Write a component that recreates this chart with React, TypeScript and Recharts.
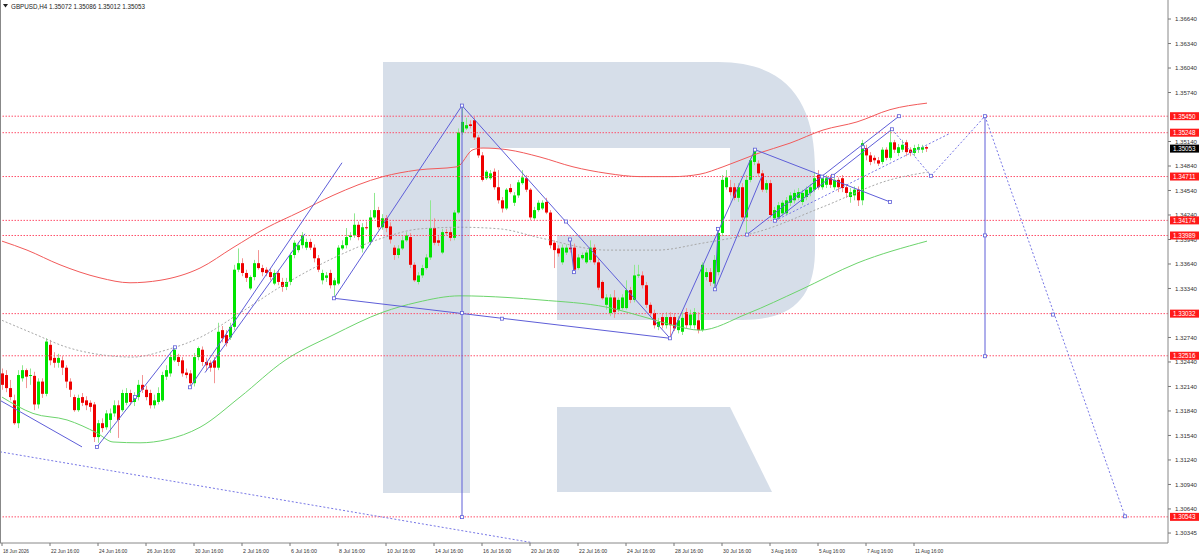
import React from 'react';
import { ComposedChart, Bar, Line, XAxis, YAxis, ReferenceLine, ReferenceDot } from 'recharts';

const opens = [
  1.3230,1.3228,1.3212,1.3197,1.3169,1.3224,1.3234,1.3227,1.3227,1.3192,
  1.3220,1.3205,1.3265,1.3249,1.3243,1.3246,1.3237,1.3220,1.3201,1.3185,
  1.3201,1.3197,1.3194,1.3192,1.3152,1.3169,1.3164,1.3173,1.3181,1.3191,
  1.3185,1.3194,1.3206,1.3195,1.3201,1.3216,1.3210,1.3206,1.3191,1.3195,
  1.3197,1.3226,1.3230,1.3246,1.3250,1.3246,1.3231,1.3230,1.3218,1.3250,
  1.3259,1.3244,1.3243,1.3246,1.3237,1.3283,1.3277,1.3274,1.3287,1.3357,
  1.3365,1.3353,1.3334,1.3348,1.3365,1.3359,1.3357,1.3354,1.3340,1.3353,
  1.3342,1.3336,1.3342,1.3375,1.3381,1.3387,1.3384,1.3391,1.3384,1.3371,
  1.3344,1.3347,1.3353,1.3338,1.3340,1.3383,1.3387,1.3397,1.3399,1.3412,
  1.3383,1.3409,1.3391,1.3421,1.3430,1.3409,1.3420,1.3410,1.3384,1.3375,
  1.3383,1.3393,1.3397,1.3363,1.3342,1.3350,1.3359,1.3372,1.3408,1.3393,
  1.3378,1.3403,1.3403,1.3396,1.3427,1.3525,1.3530,1.3535,1.3540,1.3519,
  1.3497,1.3469,1.3469,1.3477,1.3458,1.3442,1.3432,1.3457,1.3439,1.3448,
  1.3463,1.3469,1.3455,1.3420,1.3430,1.3432,1.3440,1.3427,1.3390,1.3383,
  1.3366,1.3378,1.3384,1.3384,1.3359,1.3371,1.3366,1.3369,1.3384,1.3366,
  1.3342,1.3314,1.3304,1.3323,1.3308,1.3310,1.3310,1.3332,1.3320,1.3350,
  1.3350,1.3338,1.3314,1.3304,1.3287,1.3299,1.3289,1.3299,1.3299,1.3283,
  1.3281,1.3305,1.3289,1.3289,1.3295,1.3283,1.3348,1.3354,1.3340,1.3354,
  1.3402,1.3458,1.3458,1.3458,1.3445,1.3458,1.3421,1.3467,1.3489,1.3487,
  1.3475,1.3455,1.3463,1.3420,1.3421,1.3426,1.3426,1.3439,1.3442,1.3445,
  1.3440,1.3446,1.3451,1.3455,1.3473,1.3458,1.3461,1.3469,1.3458,1.3467,
  1.3469,1.3458,1.3446,1.3448,1.3455,1.3442,1.3506,1.3497,1.3494,1.3491,
  1.3489,1.3504,1.3494,1.3513,1.3500,1.3504,1.3513,1.3504,1.3500,1.3504,
  1.3504,1.35072,
];

const closes = [
  1.3216,1.3212,1.3201,1.3169,1.3228,1.3234,1.3226,1.3228,1.3192,1.3220,
  1.3205,1.3269,1.3246,1.3243,1.3249,1.3237,1.3220,1.3210,1.3185,1.3200,
  1.3194,1.3191,1.3189,1.3152,1.3169,1.3163,1.3181,1.3181,1.3191,1.3173,
  1.3206,1.3206,1.3195,1.3201,1.3216,1.3210,1.3201,1.3191,1.3197,1.3206,
  1.3228,1.3234,1.3250,1.3259,1.3244,1.3230,1.3228,1.3218,1.3250,1.3261,
  1.3244,1.3240,1.3237,1.3237,1.3281,1.3273,1.3267,1.3287,1.3357,1.3365,
  1.3353,1.3347,1.3348,1.3365,1.3359,1.3354,1.3353,1.3348,1.3353,1.3342,
  1.3336,1.3342,1.3375,1.3390,1.3387,1.3399,1.3391,1.3384,1.3371,1.3357,
  1.3353,1.3350,1.3338,1.3344,1.3384,1.3387,1.3397,1.3399,1.3412,1.3397,
  1.3409,1.3408,1.3421,1.3430,1.3409,1.3420,1.3408,1.3394,1.3375,1.3383,
  1.3393,1.3399,1.3363,1.3344,1.3350,1.3359,1.3372,1.3408,1.3390,1.3390,
  1.3403,1.3402,1.3396,1.3427,1.3525,1.3538,1.3534,1.3533,1.3519,1.3497,
  1.3467,1.3477,1.3475,1.3458,1.3442,1.3432,1.3455,1.3452,1.3448,1.3464,
  1.3470,1.3455,1.3421,1.3430,1.3439,1.3439,1.3427,1.3387,1.3381,1.3377,
  1.3384,1.3384,1.3382,1.3357,1.3372,1.3375,1.3378,1.3384,1.3366,1.3335,
  1.3322,1.3323,1.3323,1.3305,1.3320,1.3323,1.3332,1.3320,1.3350,1.3351,
  1.3338,1.3314,1.3304,1.3289,1.3293,1.3289,1.3299,1.3289,1.3285,1.3295,
  1.3298,1.3289,1.3302,1.3305,1.3283,1.3363,1.3354,1.3342,1.3369,1.3402,
  1.3467,1.3470,1.3452,1.3445,1.3458,1.3421,1.3467,1.3491,1.3504,1.3475,
  1.3455,1.3463,1.3424,1.3430,1.3436,1.3439,1.3442,1.3448,1.3451,1.3452,
  1.3451,1.3455,1.3458,1.3469,1.3458,1.3469,1.3469,1.3461,1.3467,1.3458,
  1.3457,1.3451,1.3452,1.3455,1.3442,1.3512,1.3497,1.3489,1.3491,1.3487,
  1.3504,1.3494,1.3513,1.3504,1.3507,1.3510,1.3501,1.3500,1.3506,1.3507,
  1.3507,1.35053,
];

const highs = [
  1.3236,1.3234,1.3222,1.3204,1.3234,1.3240,1.3236,1.3236,1.3232,1.3224,
  1.3224,1.3273,1.3271,1.3256,1.3254,1.3251,1.3240,1.3224,1.3204,1.3204,
  1.3206,1.3202,1.3197,1.3195,1.3173,1.3175,1.3185,1.3187,1.3197,1.3197,
  1.3210,1.3212,1.3210,1.3207,1.3222,1.3228,1.3215,1.3210,1.3204,1.3213,
  1.3232,1.3240,1.3256,1.3263,1.3254,1.3250,1.3236,1.3234,1.3255,1.3263,
  1.3263,1.3249,1.3246,1.3250,1.3292,1.3288,1.3283,1.3292,1.3363,1.3383,
  1.3371,1.3357,1.3350,1.3369,1.3381,1.3363,1.3360,1.3359,1.3357,1.3357,
  1.3347,1.3347,1.3378,1.3393,1.3391,1.3403,1.3395,1.3395,1.3388,1.3375,
  1.3357,1.3354,1.3357,1.3347,1.3387,1.3393,1.3408,1.3403,1.3426,1.3416,
  1.3414,1.3416,1.3430,1.3451,1.3434,1.3425,1.3424,1.3415,1.3387,1.3387,
  1.3398,1.3403,1.3402,1.3366,1.3354,1.3363,1.3376,1.3442,1.3420,1.3398,
  1.3407,1.3407,1.3408,1.3430,1.3530,1.3557,1.3543,1.3540,1.3544,1.3522,
  1.3501,1.3479,1.3479,1.3481,1.3479,1.3446,1.3457,1.3462,1.3452,1.3467,
  1.3479,1.3473,1.3457,1.3434,1.3442,1.3442,1.3445,1.3430,1.3393,1.3387,
  1.3388,1.3388,1.3389,1.3389,1.3376,1.3378,1.3381,1.3393,1.3388,1.3371,
  1.3344,1.3327,1.3327,1.3332,1.3323,1.3327,1.3344,1.3336,1.3363,1.3363,
  1.3355,1.3342,1.3317,1.3308,1.3298,1.3304,1.3305,1.3305,1.3304,1.3300,
  1.3305,1.3310,1.3308,1.3310,1.3305,1.3366,1.3359,1.3359,1.3375,1.3406,
  1.3473,1.3479,1.3467,1.3463,1.3463,1.3463,1.3473,1.3494,1.3506,1.3491,
  1.3479,1.3467,1.3467,1.3434,1.3440,1.3442,1.3446,1.3452,1.3455,1.3457,
  1.3455,1.3459,1.3462,1.3476,1.3479,1.3473,1.3473,1.3473,1.3470,1.3470,
  1.3473,1.3462,1.3457,1.3459,1.3459,1.3516,1.3510,1.3501,1.3497,1.3495,
  1.3507,1.3507,1.3530,1.3516,1.3511,1.3516,1.3516,1.3507,1.3510,1.3511,
  1.3510,1.35086,
];

const lows = [
  1.3210,1.3207,1.3197,1.3167,1.3163,1.3220,1.3212,1.3216,1.3185,1.3187,
  1.3200,1.3202,1.3240,1.3237,1.3237,1.3228,1.3212,1.3201,1.3183,1.3183,
  1.3190,1.3185,1.3183,1.3146,1.3145,1.3158,1.3161,1.3157,1.3177,1.3151,
  1.3183,1.3191,1.3191,1.3190,1.3197,1.3206,1.3197,1.3187,1.3187,1.3192,
  1.3195,1.3222,1.3226,1.3244,1.3239,1.3226,1.3224,1.3214,1.3214,1.3246,
  1.3239,1.3234,1.3232,1.3218,1.3234,1.3268,1.3263,1.3271,1.3283,1.3354,
  1.3349,1.3342,1.3332,1.3344,1.3357,1.3349,1.3349,1.3344,1.3338,1.3338,
  1.3330,1.3332,1.3338,1.3371,1.3378,1.3383,1.3381,1.3381,1.3366,1.3354,
  1.3339,1.3342,1.3334,1.3322,1.3338,1.3381,1.3383,1.3393,1.3396,1.3393,
  1.3378,1.3406,1.3387,1.3419,1.3406,1.3406,1.3403,1.3389,1.3369,1.3371,
  1.3381,1.3391,1.3359,1.3342,1.3339,1.3347,1.3357,1.3369,1.3387,1.3386,
  1.3376,1.3399,1.3392,1.3393,1.3425,1.3522,1.3528,1.3530,1.3516,1.3494,
  1.3465,1.3467,1.3467,1.3455,1.3438,1.3427,1.3430,1.3450,1.3435,1.3445,
  1.3461,1.3452,1.3418,1.3418,1.3428,1.3430,1.3425,1.3383,1.3359,1.3373,
  1.3363,1.3375,1.3378,1.3353,1.3357,1.3369,1.3364,1.3366,1.3363,1.3332,
  1.3320,1.3308,1.3300,1.3298,1.3305,1.3308,1.3308,1.3316,1.3317,1.3347,
  1.3334,1.3310,1.3300,1.3285,1.3283,1.3285,1.3285,1.3273,1.3282,1.3279,
  1.3277,1.3285,1.3285,1.3285,1.3279,1.3281,1.3344,1.3337,1.3333,1.3350,
  1.3398,1.3455,1.3448,1.3442,1.3440,1.3418,1.3399,1.3464,1.3485,1.3471,
  1.3452,1.3451,1.3420,1.3418,1.3418,1.3423,1.3424,1.3435,1.3438,1.3442,
  1.3436,1.3442,1.3447,1.3452,1.3455,1.3455,1.3457,1.3457,1.3455,1.3452,
  1.3452,1.3445,1.3439,1.3442,1.3435,1.3436,1.3491,1.3485,1.3487,1.3484,
  1.3486,1.3491,1.3491,1.3500,1.3496,1.3501,1.3496,1.3496,1.3496,1.3500,
  1.3500,1.35012,
];

const dateTickBars = [0,12,24,36,48,60,72,84,96,108,120,132,144,156,168,180,192,204,216,228];
const dateLabels = [
  '18 Jun 2026','22 Jun 16:00','24 Jun 16:00','26 Jun 16:00','30 Jun 16:00','2 Jul 16:00',
  '6 Jul 16:00','8 Jul 16:00','10 Jul 16:00','14 Jul 16:00','16 Jul 16:00','20 Jul 16:00',
  '22 Jul 16:00','24 Jul 16:00','28 Jul 16:00','30 Jul 16:00','3 Aug 16:00','5 Aug 16:00',
  '7 Aug 16:00','11 Aug 16:00',
];

const priceTicks = [
  1.3664,1.3634,1.3604,1.3574,1.3514,1.3484,1.3454,1.3424,1.3394,1.3364,1.3334,
  1.3274,1.3244,1.3214,1.3184,1.3154,1.3124,1.3094,1.3064,1.30345,
];
const levelPrices = [1.3545,1.35248,1.34711,1.34174,1.33989,1.33032,1.32516,1.30543];
const currentPrice = 1.35053;

const redMA = [
  [0,1.3392],[6.25,1.3381],[14.5,1.3363],[24.5,1.3347],[32,1.3341],[39.5,1.3344],[49.5,1.3359],
  [57.75,1.3384],[66,1.3408],[74.5,1.3428],[82.75,1.3448],[95.25,1.3471],[103.75,1.3479],
  [113.75,1.3483],[117.75,1.3504],[120.25,1.3506],[126.25,1.3504],[134.5,1.3495],[142.75,1.3483],
  [151.25,1.3475],[159.5,1.3471],[167.75,1.3471],[174.5,1.3474],[180.25,1.3483],[188.75,1.3499],
  [197,1.3512],[205.25,1.3528],[213.75,1.3538],[222,1.3553],[231.25,1.3561],
];
const greenMA = [
  [0,1.3201],[7.75,1.3181],[16.25,1.3173],[23.75,1.3157],[27.75,1.3146],[34.5,1.3145],[41.25,1.3149],
  [49.5,1.3164],[59.5,1.3201],[70.75,1.3246],[82.75,1.3277],[95.25,1.3305],[103.75,1.3317],
  [114.5,1.3325],[126.25,1.3323],[134.5,1.3320],[151.25,1.3311],[162,1.3297],[167.75,1.3289],
  [174.5,1.3283],[186.25,1.3303],[199.5,1.3332],[213.75,1.3365],[231.25,1.3392],
];
const grayMA = [
  [0,1.3295],[7.75,1.3279],[16.25,1.3262],[24.5,1.3253],[32.75,1.3250],[41.25,1.3259],[49.5,1.3274],
  [59.5,1.3304],[70.25,1.3338],[82.75,1.3371],[95.25,1.3396],[104.5,1.3407],[114.5,1.3409],
  [124.5,1.3407],[134.5,1.3396],[151.25,1.3381],[163.75,1.3381],[174.5,1.3389],[188.75,1.3403],
  [205.25,1.3434],[222,1.3467],[232,1.3477],
];

// wave analysis lines: [fromBar, fromPrice, toBar, toPrice, style]
const waveLines = [
  [-0.5,1.3197,20,1.3140,'solid'],
  [-0.5,1.3134,132.25,1.3023,'dot'],
  [23.75,1.3140,43.25,1.3262,'solid'],
  [50.75,1.3231,75.75,1.3401,'solid'],
  [47,1.3213,85,1.3488,'solid'],
  [83,1.3322,115,1.3558,'solid'],
  [83,1.3322,167,1.3273,'solid'],
  [115,1.3558,115,1.3054,'solid'],
  [115,1.3558,167,1.3273,'solid'],
  [142,1.3394,143,1.3354,'solid'],
  [167,1.3273,188.25,1.3504,'solid'],
  [188.25,1.3504,222,1.3440,'solid'],
  [179,1.3407,178.25,1.3333,'solid'],
  [178.25,1.3333,190,1.3472,'solid'],
  [186.25,1.3400,224.25,1.3545,'solid'],
  [193.25,1.3417,222.5,1.3529,'solid'],
  [193.25,1.3417,237,1.3524,'dot'],
  [222.5,1.3529,232.25,1.3472,'dot'],
  [232.25,1.3472,245.75,1.3545,'dot'],
  [245.75,1.3545,245.75,1.3251,'solid'],
  [245.75,1.3545,280.75,1.3055,'dot'],
];
const waveNodes = [
  [23.75,1.3140],[33.25,1.3201],[43.25,1.3262],[47,1.3213],[83,1.3322],[115,1.3558],[115,1.3304],
  [125,1.3297],[141,1.3416],[142,1.3394],[143,1.3354],[167,1.3273],[115,1.3054],[188.25,1.3504],
  [205,1.3471],[222,1.3440],[178.25,1.3333],[179,1.3407],[186.25,1.3400],[224.25,1.3545],
  [193.25,1.3417],[207.75,1.3472],[215.25,1.3507],[222.5,1.3529],[232.25,1.3472],[245.75,1.3545],
  [245.75,1.3399],[245.75,1.3251],[262.75,1.3302],[280.75,1.3055],
];

const candles = opens.map((o, i) => ({
  i, o, h: highs[i], l: lows[i], c: closes[i], range: [lows[i], highs[i]],
}));
const toSeries = (arr: number[][]) => arr.map(([i, v]) => ({ i, v }));

const W = 1200;
const H = 555;
const PLOT_R = 1168;
const PLOT_B = 543;
const FONT = "'Liberation Sans', Arial, sans-serif";
const BLUE = '#5e5ed8';
const LEVEL = '#ff4f6a';

const Candle = (props: any) => {
  const { x, y, width, height } = props;
  const p = props.payload || props;
  if (x == null || y == null || !p) return null;
  const { o, h, l, c } = p;
  const span = h - l;
  const k = span > 0 ? height / span : 0;
  const yO = y + (h - o) * k;
  const yC = y + (h - c) * k;
  const cx = Math.round(x + width / 2);
  const up = c >= o;
  const top = Math.min(yO, yC);
  const bh = Math.max(1, Math.abs(yC - yO));
  return (
    <g>
      <line x1={cx + 0.5} x2={cx + 0.5} y1={y} y2={y + height} stroke={up ? '#8fe88f' : '#f39595'} strokeWidth={1} />
      <rect x={cx - 1} y={top} width={3} height={bh} fill={up ? '#00e400' : '#ee0000'} />
    </g>
  );
};

const YTick = (props: any) => {
  const { y, payload } = props;
  const v = payload.value as number;
  const isLevel = levelPrices.includes(v);
  const isCur = v === currentPrice;
  if (isLevel || isCur) {
    return (
      <g>
        <rect x={PLOT_R + 2} y={y - 4} width={29} height={8} fill={isCur ? '#000000' : '#ff1a1a'} />
        <text x={PLOT_R + 5} y={y + 2.4} fill="#ffffff" fontSize={6.4} fontFamily={FONT}
          textLength={22.5} lengthAdjust="spacingAndGlyphs">{v.toFixed(5)}</text>
      </g>
    );
  }
  return (
    <g>
      <line x1={PLOT_R} x2={PLOT_R + 3} y1={y} y2={y} stroke="#777" />
      <text x={PLOT_R + 7} y={y + 2.4} fill="#333" fontSize={6.2} fontFamily={FONT}
        textLength={22} lengthAdjust="spacingAndGlyphs">{v.toFixed(5)}</text>
    </g>
  );
};

const XTick = (props: any) => {
  const { x, payload } = props;
  const idx = dateTickBars.indexOf(payload.value);
  const label = dateLabels[idx] ?? '';
  return (
    <g>
      <line x1={x} x2={x} y1={PLOT_B} y2={PLOT_B + 3} stroke="#777" />
      <text x={x + 1} y={PLOT_B + 9.5} fill="#333" fontSize={6.2} fontFamily={FONT}
        textLength={label.length * 2.35} lengthAdjust="spacingAndGlyphs">{label}</text>
    </g>
  );
};

const Node = (props: any) => {
  const { cx, cy } = props;
  if (cx == null || cy == null) return null;
  return <rect x={cx - 1.5} y={cy - 1.5} width={3} height={3} fill="#ffffff" stroke={BLUE} strokeWidth={0.8} />;
};

export default function App() {
  return (
    <div style={{ position: 'relative', width: W, height: H, background: '#fff' }}>
      <style>{'body{margin:0}'}</style>
      <svg width={W} height={H} style={{ position: 'absolute', left: 0, top: 0 }}>
        <rect x={383} y={62} width={87} height={431} fill="#d6dee9" />
        <path d="M470 62 L718 62 C790 62 815 105 815 170 L815 250 C815 300 790 320 742 320 L557 320 L557 235 L730 235 L730 148 L470 148 Z" fill="#d6dee9" />
        <path d="M557 407 L730 407 L772 492 L557 492 Z" fill="#d6dee9" />
      </svg>
      <div style={{ position: 'absolute', left: 0, top: 0 }}>
        <ComposedChart width={W} height={H} data={candles} margin={{ top: 0, right: 0, bottom: 0, left: 0 }}>
          <XAxis dataKey="i" type="number" domain={[-0.5, 291.5]} allowDataOverflow ticks={dateTickBars}
            interval={0} tick={<XTick />} tickLine={false} height={12} axisLine={{ stroke: '#888' }} />
          <YAxis orientation="right" type="number" domain={[1.30223, 1.36873]} allowDataOverflow
            ticks={[...priceTicks, ...levelPrices, currentPrice]} interval={0} tick={<YTick />}
            tickLine={false} width={32} axisLine={{ stroke: '#888' }} />
          {levelPrices.map((p) => (
            <ReferenceLine key={'lv' + p} y={p} stroke={LEVEL} strokeDasharray="1.5 1.5" strokeWidth={1} ifOverflow="visible" />
          ))}
          <Line data={toSeries(grayMA)} dataKey="v" type="monotone" stroke="#a8a8a8" strokeDasharray="2 2"
            strokeWidth={1} dot={false} activeDot={false} isAnimationActive={false} />
          <Line data={toSeries(redMA)} dataKey="v" type="monotone" stroke="#f25a5a" strokeWidth={1}
            dot={false} activeDot={false} isAnimationActive={false} />
          <Line data={toSeries(greenMA)} dataKey="v" type="monotone" stroke="#6cd46c" strokeWidth={1}
            dot={false} activeDot={false} isAnimationActive={false} />
          <Bar dataKey="range" barSize={3} shape={<Candle />} isAnimationActive={false} />
          {waveLines.map((w, k) => (
            <ReferenceLine key={'w' + k}
              segment={[{ x: w[0] as number, y: w[1] as number }, { x: w[2] as number, y: w[3] as number }]}
              stroke={w[4] === 'dot' ? '#7777e6' : BLUE} strokeWidth={1}
              strokeDasharray={w[4] === 'dot' ? '2 2' : undefined} ifOverflow="visible" />
          ))}
          {waveNodes.map((n, k) => (
            <ReferenceDot key={'n' + k} x={n[0]} y={n[1]} r={1.5} shape={<Node />} ifOverflow="visible" />
          ))}
        </ComposedChart>
      </div>
      <svg width={W} height={H} style={{ position: 'absolute', left: 0, top: 0, pointerEvents: 'none' }}>
        <line x1={0.5} x2={0.5} y1={0} y2={PLOT_B} stroke="#888" />
        <polygon points="3,4 8,4 5.5,7.5" fill="#222" />
        <text x={11} y={8.5} fontSize={6.5} fill="#222" fontFamily={FONT} textLength={134}
          lengthAdjust="spacingAndGlyphs">GBPUSD,H4  1.35072 1.35086 1.35012 1.35053</text>
      </svg>
    </div>
  );
}
